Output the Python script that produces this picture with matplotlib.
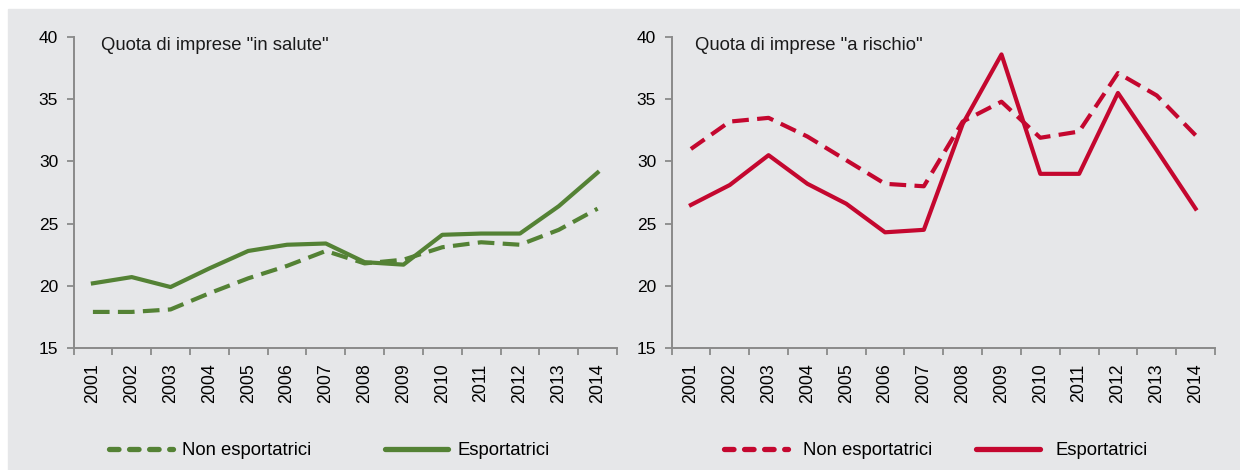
import matplotlib
matplotlib.use("Agg")
import matplotlib.pyplot as plt
from matplotlib.patches import Rectangle

years = ["2001", "2002", "2003", "2004", "2005", "2006", "2007",
         "2008", "2009", "2010", "2011", "2012", "2013", "2014"]

salute_non_esp = [17.9, 17.9, 18.1, 19.4, 20.6, 21.6, 22.8,
                  21.8, 22.1, 23.1, 23.5, 23.3, 24.5, 26.2]
salute_esp = [20.2, 20.7, 19.9, 21.4, 22.8, 23.3, 23.4,
              21.9, 21.7, 24.1, 24.2, 24.2, 26.4, 29.1]

rischio_non_esp = [31.0, 33.2, 33.5, 32.0, 30.1, 28.2, 28.0,
                   33.2, 34.8, 31.9, 32.4, 37.1, 35.3, 32.1]
rischio_esp = [26.5, 28.1, 30.5, 28.2, 26.6, 24.3, 24.5,
               33.0, 38.6, 29.0, 29.0, 35.5, 30.9, 26.2]

titles = ['Quota di imprese "in salute"', 'Quota di imprese "a rischio"']
labels = ["Non esportatrici", "Esportatrici"]

GREEN = "#548235"
RED = "#c4072f"
BG = "#e6e7e9"
AXIS = "#8a8a8a"

plt.rcParams["font.family"] = ["Liberation Sans", "DejaVu Sans"]

fig = plt.figure(figsize=(12.4, 4.7), dpi=100)
# grey card behind both panels
fig.patches.append(Rectangle((8 / 1240, 0), 1 - 8 / 1240, 461 / 470,
                             transform=fig.transFigure, color=BG, zorder=-5))


def draw_panel(ax, non_esp, esp, color, title, title_x, leg_x, leg_spacing,
               handle_len, text_pad):
    x = range(len(years))
    ax.plot(x, non_esp, color=color, lw=3.0, dashes=(4.0, 2.0),
            label=labels[0])
    ax.plot(x, esp, color=color, lw=3.0, label=labels[1])
    ax.set_facecolor("none")
    ax.set_xlim(-0.5, len(years) - 0.5)
    ax.set_ylim(15, 40)
    ax.set_yticks([15, 20, 25, 30, 35, 40])
    ax.set_xticks(list(x))
    ax.set_xticklabels(years, rotation=90)
    ax.set_xticks([i - 0.5 for i in range(len(years) + 1)], minor=True)
    ax.tick_params(axis="x", which="major", length=0, pad=11, labelsize=12.8)
    ax.tick_params(axis="x", which="minor", length=5, width=1.3,
                   color=AXIS, direction="out")
    ax.tick_params(axis="y", length=5, width=1.3, color=AXIS, pad=6,
                   labelsize=12.5)
    for side in ["top", "right"]:
        ax.spines[side].set_visible(False)
    for side in ["left", "bottom"]:
        ax.spines[side].set_color(AXIS)
        ax.spines[side].set_linewidth(1.4)
    ax.text(title_x, 0.974, title, transform=ax.transAxes, fontsize=13.3,
            va="center", ha="left", color="#1a1a1a")
    leg = ax.legend(loc="center left", bbox_to_anchor=(leg_x, -0.331),
                    ncol=2, frameon=False, fontsize=13.3, borderpad=0,
                    borderaxespad=0, handlelength=handle_len,
                    handletextpad=text_pad, columnspacing=leg_spacing)
    lines = leg.get_lines()
    lines[0].set_linewidth(3.8)
    lines[0].set_dashes((1.8, 2.0))
    lines[0].set_dash_capstyle("round")
    lines[1].set_linewidth(3.8)
    lines[1].set_solid_capstyle("round")


ax1 = fig.add_axes([73.5 / 1240, 122 / 470, 543.5 / 1240, 311 / 470])
draw_panel(ax1, salute_non_esp, salute_esp, GREEN, titles[0],
           0.05, 0.066, 3.95, 3.45, 0.5)

ax2 = fig.add_axes([671.5 / 1240, 122 / 470, 543.5 / 1240, 311 / 470])
draw_panel(ax2, rischio_non_esp, rischio_esp, RED, titles[1],
           0.044, 0.096, 2.35, 3.5, 0.8)

fig.savefig("out.png", dpi=100, facecolor="white")
